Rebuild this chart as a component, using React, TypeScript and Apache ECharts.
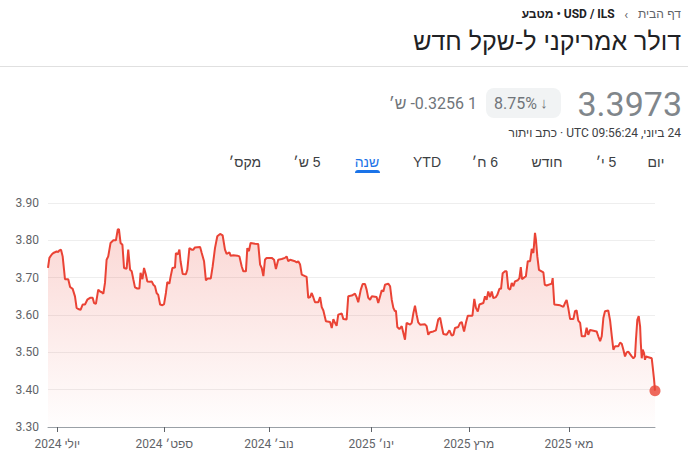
import React, { useEffect, useRef } from "react";
import * as echarts from "echarts";

// Trading-day index (0 = 24 Jun 2024, 261 = 24 Jun 2025) and USD/ILS rate
const dayIndex = [
  0, 0.6, 1.6, 2.3, 3.7, 4.4, 4.9, 5.6, 6.3, 6.9, 7.3, 8.7, 9.5, 10.6, 11.6, 12.3, 13.0, 14.0, 14.9, 15.9,
  16.9, 18.1, 19.2, 19.8, 20.6, 21.6, 22.4, 23.1, 23.8, 24.5, 25.2, 25.9, 26.9, 28.1, 29.2, 30.0, 30.5, 31.2, 32.0, 32.7,
  33.8, 34.5, 35.3, 36.0, 36.7, 37.4, 38.4, 39.3, 39.8, 40.6, 41.3, 42.1, 42.7, 43.9, 44.6, 45.3, 46.0, 46.7, 47.4, 48.2,
  49.2, 49.9, 50.7, 51.3, 52.2, 52.7, 53.5, 54.6, 55.0, 55.8, 56.5, 57.0, 57.9, 59.3, 59.9, 60.8, 61.8, 62.5, 63.2, 65.4,
  66.1, 67.1, 67.9, 68.7, 70.0, 70.8, 71.8, 72.8, 74.0, 75.1, 76.1, 76.8, 78.0, 78.5, 79.7, 81.4, 82.3, 83.3, 84.0, 85.1,
  85.7, 86.4, 87.1, 89.0, 90.4, 91.2, 91.9, 92.6, 93.3, 94.0, 96.2, 97.2, 98.0, 99.0, 100.5, 101.9, 102.6, 103.3, 104.1, 106.2,
  106.9, 107.6, 108.4, 109.1, 111.2, 111.9, 112.7, 113.4, 114.1, 114.8, 116.2, 117.0, 117.7, 118.4, 119.5, 121.3, 122.0, 122.7, 123.4, 124.1,
  124.8, 126.3, 127.0, 128.4, 129.1, 130.6, 132.0, 132.7, 133.4, 134.5, 135.3, 136.3, 137.0, 137.7, 138.5, 139.2, 141.3, 142.0, 142.8, 143.5,
  144.2, 144.9, 146.3, 147.1, 147.8, 148.5, 149.2, 149.6, 150.2, 151.1, 152.1, 152.8, 153.5, 154.2, 155.7, 156.4, 157.1, 157.8, 158.5, 159.2,
  160.0, 162.1, 162.8, 163.5, 164.3, 165.7, 166.8, 167.8, 168.6, 169.3, 170.0, 171.4, 172.6, 173.6, 174.3, 175.0, 176.4, 177.2, 177.9, 178.9,
  179.7, 180.5, 182.5, 183.3, 184.0, 184.8, 185.5, 187.2, 187.9, 188.6, 189.3, 190.1, 190.8, 191.5, 192.6, 193.2, 194.1, 194.8, 195.5, 196.5,
  197.2, 197.9, 198.7, 199.4, 200.1, 200.8, 202.0, 202.7, 203.3, 203.8, 205.5, 206.3, 207.3, 208.0, 208.7, 209.4, 209.8, 210.4, 211.1, 213.0,
  213.6, 214.4, 216.6, 217.0, 217.7, 220.2, 221.6, 222.3, 223.0, 223.7, 224.5, 225.9, 226.6, 227.3, 228.0, 228.8, 229.5, 230.9, 231.6, 232.3,
  233.1, 235.9, 236.6, 237.4, 238.1, 238.8, 239.5, 240.9, 241.7, 242.4, 243.1, 243.8, 245.2, 246.0, 246.7, 247.4, 248.1, 248.8, 249.5, 251.0,
  251.7, 252.4, 252.8, 253.4, 254.0, 254.6, 254.9, 255.3, 255.7, 256.3, 256.7, 257.1, 259.6, 260.0, 260.6, 261,
];

const rate = [
  3.726, 3.753, 3.762, 3.766, 3.770, 3.769, 3.773, 3.775, 3.757, 3.721, 3.696, 3.696, 3.675, 3.670, 3.650, 3.619, 3.616, 3.614, 3.628, 3.628,
  3.641, 3.646, 3.646, 3.632, 3.630, 3.668, 3.663, 3.661, 3.657, 3.686, 3.748, 3.757, 3.793, 3.800, 3.800, 3.829, 3.830, 3.793, 3.788, 3.726,
  3.724, 3.775, 3.721, 3.717, 3.695, 3.674, 3.671, 3.671, 3.713, 3.696, 3.726, 3.708, 3.690, 3.689, 3.690, 3.681, 3.677, 3.659, 3.654, 3.628,
  3.626, 3.629, 3.659, 3.688, 3.684, 3.702, 3.726, 3.727, 3.766, 3.762, 3.775, 3.744, 3.710, 3.709, 3.721, 3.779, 3.775, 3.775, 3.781, 3.782,
  3.766, 3.744, 3.693, 3.698, 3.698, 3.730, 3.779, 3.811, 3.817, 3.813, 3.775, 3.764, 3.768, 3.759, 3.760, 3.759, 3.757, 3.730, 3.717, 3.717,
  3.779, 3.771, 3.793, 3.791, 3.790, 3.735, 3.726, 3.704, 3.748, 3.753, 3.753, 3.748, 3.723, 3.748, 3.750, 3.753, 3.757, 3.744, 3.748, 3.744,
  3.741, 3.744, 3.735, 3.708, 3.702, 3.646, 3.648, 3.659, 3.647, 3.634, 3.634, 3.648, 3.621, 3.612, 3.583, 3.581, 3.565, 3.589, 3.579, 3.571,
  3.601, 3.604, 3.589, 3.588, 3.650, 3.652, 3.657, 3.648, 3.634, 3.668, 3.683, 3.683, 3.668, 3.646, 3.641, 3.650, 3.648, 3.632, 3.650, 3.666,
  3.663, 3.681, 3.684, 3.677, 3.641, 3.619, 3.610, 3.612, 3.568, 3.562, 3.570, 3.552, 3.534, 3.579, 3.574, 3.579, 3.605, 3.625, 3.601, 3.580,
  3.574, 3.575, 3.570, 3.547, 3.554, 3.556, 3.559, 3.588, 3.593, 3.570, 3.549, 3.547, 3.559, 3.545, 3.547, 3.565, 3.568, 3.579, 3.581, 3.556,
  3.579, 3.598, 3.598, 3.643, 3.619, 3.609, 3.628, 3.632, 3.650, 3.641, 3.663, 3.648, 3.663, 3.645, 3.648, 3.654, 3.670, 3.670, 3.712, 3.717,
  3.717, 3.672, 3.668, 3.686, 3.677, 3.690, 3.693, 3.699, 3.728, 3.696, 3.704, 3.744, 3.744, 3.777, 3.766, 3.820, 3.802, 3.757, 3.721, 3.714,
  3.681, 3.679, 3.684, 3.699, 3.628, 3.626, 3.622, 3.632, 3.640, 3.619, 3.589, 3.589, 3.610, 3.612, 3.585, 3.579, 3.543, 3.543, 3.566, 3.547,
  3.560, 3.556, 3.543, 3.530, 3.543, 3.592, 3.610, 3.612, 3.585, 3.545, 3.507, 3.516, 3.516, 3.526, 3.523, 3.507, 3.489, 3.500, 3.502, 3.489,
  3.484, 3.489, 3.533, 3.587, 3.597, 3.569, 3.524, 3.484, 3.507, 3.498, 3.480, 3.489, 3.484, 3.462, 3.427, 3.3973,
];

const tickDays = [4, 50, 95, 139, 181, 224];
const tickLabels = ["יולי 2024", "ספט׳ 2024", "נוב׳ 2024", "ינו׳ 2025", "מרץ 2025", "מאי 2025"];
const yMin = 3.3;
const yMax = 3.9;
const yStep = 0.1;

const tabLabels = ["יום", "5 י׳", "חודש", "6 ח׳", "YTD", "שנה", "5 ש׳", "מקס׳"];
const tabCenters = [656, 606, 547, 485, 427, 367, 307, 245];
const activeTab = "שנה";

const titleText = "דולר אמריקני ל-שקל חדש";
const priceText = "3.3973";
const pctText = "8.75%";
const changeText = "-0.3256 1";
const currencyText = "ש׳";
const dateText = "24 ביוני, 09:56:24 UTC · כתב ויתור";

const rtl = (s: string) => "\u202B" + s + "\u202C";

const SANS = "Roboto, Arial, 'Liberation Sans', sans-serif";
const HEB = "Arial, 'Liberation Sans', Roboto, sans-serif";

export default function App() {
  const ref = useRef<HTMLDivElement>(null);

  useEffect(() => {
    if (!ref.current) return;
    const chart = echarts.init(ref.current, undefined, { renderer: "svg" });
    const points = dayIndex.map((d, i) => [d, rate[i]]);
    const last = points[points.length - 1];

    const tabElements: any[] = tabLabels.map((t, i) => ({
      type: "text",
      x: tabCenters[i],
      y: 162,
      style: {
        text: rtl(t),
        fill: t === activeTab ? "#1a73e8" : "#3c4043",
        fontSize: 14,
        fontFamily: HEB,
        fontWeight: t === activeTab ? 500 : 400,
        align: "center",
        verticalAlign: "middle",
        textAlign: "center",
        textVerticalAlign: "middle",
      },
    }));

    chart.setOption({
      animation: false,
      backgroundColor: "#ffffff",
      grid: { left: 48, right: 37, top: 203, height: 224, outerBoundsMode: "none" },
      xAxis: {
        type: "value",
        min: 0,
        max: 261,
        axisLine: { show: true, lineStyle: { color: "#9aa0a6", width: 1 } },
        axisTick: { show: true, customValues: tickDays, length: 5, lineStyle: { color: "#5f6368", width: 1 } },
        axisLabel: {
          customValues: tickDays,
          formatter: (v: number) => {
            const k = tickDays.indexOf(v);
            return k >= 0 ? rtl(tickLabels[k]) : "";
          },
          color: "#5f6368",
          fontSize: 12,
          fontFamily: SANS,
          margin: 11,
        },
        splitLine: { show: false },
      },
      yAxis: {
        type: "value",
        min: yMin,
        max: yMax,
        interval: yStep,
        axisLine: { show: false },
        axisTick: { show: false },
        axisLabel: {
          formatter: (v: number) => v.toFixed(2),
          color: "#5f6368",
          fontSize: 12,
          fontFamily: SANS,
          margin: 9,
        },
        splitLine: { show: true, lineStyle: { color: "#eeeeee", width: 1 } },
      },
      series: [
        {
          type: "line",
          data: points,
          showSymbol: false,
          symbol: "none",
          lineStyle: { color: "#ea4335", width: 2 },
          areaStyle: {
            color: new echarts.graphic.LinearGradient(0, 0, 0, 1, [
              { offset: 0, color: "rgba(234,67,53,0.30)" },
              { offset: 1, color: "rgba(234,67,53,0.01)" },
            ]),
          },
          z: 2,
        },
        {
          type: "scatter",
          data: [last],
          symbolSize: 11,
          itemStyle: { color: "#ea4335" },
          z: 3,
        },
      ],
      graphic: [
        {
          type: "text",
          x: 681,
          y: 14,
          style: {
            text: "{m|" + rtl("מטבע") + "}{d| • }{u|USD / ILS}{c|   ‹   }{h|" + rtl("דף הבית") + "}",
            align: "right",
            verticalAlign: "middle",
            textAlign: "right",
            textVerticalAlign: "middle",
            rich: {
              m: { fontSize: 12, fontFamily: HEB, fontWeight: 700, fill: "#202124", color: "#202124" },
              d: { fontSize: 12, fontFamily: SANS, fontWeight: 700, fill: "#202124", color: "#202124" },
              u: { fontSize: 12, fontFamily: SANS, fontWeight: 700, fill: "#202124", color: "#202124" },
              c: { fontSize: 13, fontFamily: SANS, fill: "#5f6368", color: "#5f6368" },
              h: { fontSize: 12, fontFamily: HEB, fill: "#5f6368", color: "#5f6368" },
            },
          },
        },
        {
          type: "text",
          x: 681,
          y: 41,
          style: {
            text: rtl(titleText),
            fill: "#202124",
            fontSize: 25,
            fontFamily: HEB,
            align: "right",
            verticalAlign: "middle",
            textAlign: "right",
            textVerticalAlign: "middle",
          },
        },
        {
          type: "line",
          shape: { x1: 0, y1: 66.5, x2: 688, y2: 66.5 },
          style: { stroke: "#e0e0e0", lineWidth: 1 },
        },
        {
          type: "text",
          x: 682,
          y: 104,
          style: {
            text: priceText,
            fill: "#80868b",
            fontSize: 34,
            fontFamily: SANS,
            align: "right",
            verticalAlign: "middle",
            textAlign: "right",
            textVerticalAlign: "middle",
          },
        },
        {
          type: "rect",
          shape: { x: 486, y: 88, width: 75, height: 30, r: 8 },
          style: { fill: "#f1f3f4" },
        },
        {
          type: "text",
          x: 537,
          y: 103,
          style: {
            text: pctText,
            fill: "#70757a",
            fontSize: 16,
            fontFamily: SANS,
            align: "right",
            verticalAlign: "middle",
            textAlign: "right",
            textVerticalAlign: "middle",
          },
        },
        {
          type: "text",
          x: 544,
          y: 103,
          style: {
            text: "↓",
            fill: "#70757a",
            fontSize: 15,
            fontFamily: SANS,
            align: "center",
            verticalAlign: "middle",
            textAlign: "center",
            textVerticalAlign: "middle",
          },
        },
        {
          type: "text",
          x: 477,
          y: 103,
          style: {
            text: "{c|" + rtl(currencyText) + "}{s| }{n|" + changeText + "}",
            align: "right",
            verticalAlign: "middle",
            textAlign: "right",
            textVerticalAlign: "middle",
            rich: {
              c: { fontSize: 16, fontFamily: HEB, fill: "#70757a", color: "#70757a" },
              s: { fontSize: 16, fontFamily: SANS, fill: "#70757a", color: "#70757a" },
              n: { fontSize: 16, fontFamily: SANS, fill: "#70757a", color: "#70757a" },
            },
          },
        },
        {
          type: "text",
          x: 681,
          y: 133,
          style: {
            text: rtl(dateText),
            fill: "#3c4043",
            fontSize: 12,
            fontFamily: SANS,
            align: "right",
            verticalAlign: "middle",
            textAlign: "right",
            textVerticalAlign: "middle",
          },
        },
        ...tabElements,
        {
          type: "rect",
          shape: { x: 355, y: 170, width: 25, height: 3, r: [3, 3, 0, 0] },
          style: { fill: "#1a73e8" },
        },
      ],
    });

    return () => chart.dispose();
  }, []);

  return (
    <div
      ref={ref}
      style={{ position: "fixed", left: 0, top: 0, width: 692, height: 466, background: "#fff" }}
    />
  );
}
